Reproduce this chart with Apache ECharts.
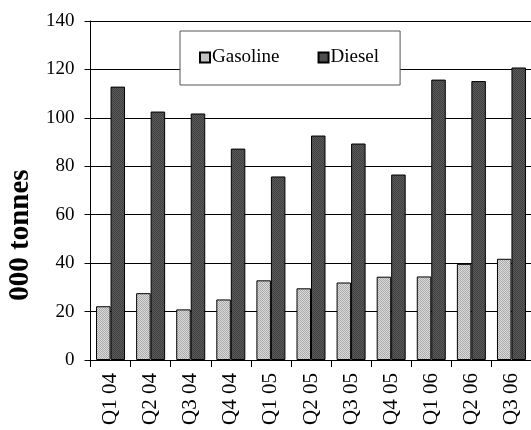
<!DOCTYPE html>
<html>
<head>
<meta charset="utf-8">
<script src="https://cdn.jsdelivr.net/npm/echarts@6/dist/echarts.min.js"></script>
<style>
html,body{margin:0;padding:0;background:#fff;}
#chart{width:531px;height:430px;}
</style>
</head>
<body>
<div id="chart"></div>
<script>
var categories = ['Q1 04','Q2 04','Q3 04','Q4 04','Q1 05','Q2 05','Q3 05','Q4 05','Q1 06','Q2 06','Q3 06'];
var gasoline = [22.2, 27.6, 20.9, 25.0, 32.9, 29.6, 32.0, 34.4, 34.5, 39.7, 41.8];
var diesel = [112.9, 102.6, 101.8, 87.3, 75.8, 92.7, 89.4, 76.6, 115.8, 115.2, 120.8];
var yTicks = [0, 20, 40, 60, 80, 100, 120, 140];

function makePattern(c1, c2) {
  var cv = document.createElement('canvas');
  cv.width = 2; cv.height = 2;
  var ctx = cv.getContext('2d');
  ctx.fillStyle = c1; ctx.fillRect(0, 0, 2, 2);
  ctx.fillStyle = c2; ctx.fillRect(0, 0, 1, 1); ctx.fillRect(1, 1, 1, 1);
  return cv;
}
var gasPattern = { image: makePattern('#dadada', '#ababab'), repeat: 'repeat' };
var dieselPattern = { image: makePattern('#5a5a5a', '#404040'), repeat: 'repeat' };

var font = 'Liberation Serif';
var chart = echarts.init(document.getElementById('chart'), null, { renderer: 'canvas' });
chart.setOption({
  animation: false,
  backgroundColor: '#fff',
  grid: { left: 90.5, top: 21, width: 441, height: 339, containLabel: false, outerBoundsMode: 'none' },
  legend: {
    left: 180, top: 31,
    padding: [17, 21, 18, 19],
    itemGap: 38,
    itemWidth: 10, itemHeight: 10,
    icon: 'rect',
    backgroundColor: '#fff',
    borderColor: '#555',
    borderWidth: 1,
    borderRadius: 0,
    textStyle: { fontFamily: font, fontSize: 19, color: '#000', padding: [0, 0, 0, -3] },
    data: ['Gasoline', 'Diesel']
  },
  xAxis: {
    type: 'category',
    data: categories,
    axisLine: { lineStyle: { color: '#000', width: 1 } },
    axisTick: { show: true, length: 7, inside: false, lineStyle: { color: '#000' } },
    axisLabel: { rotate: 90, margin: 13, fontFamily: font, fontSize: 21, color: '#000' }
  },
  yAxis: {
    type: 'value',
    min: 0, max: 140, interval: 20,
    name: '000 tonnes',
    nameLocation: 'middle',
    nameGap: 55,
    nameTextStyle: { fontFamily: font, fontSize: 29, fontWeight: 'bold', color: '#000', padding: [0, 89, 0, 0] },
    axisLine: { show: true, lineStyle: { color: '#000', width: 1 } },
    axisTick: { show: true, length: 6, inside: false, lineStyle: { color: '#000' } },
    axisLabel: {
      margin: 16, fontFamily: font, fontSize: 19, color: '#000',
      formatter: function (v) { return yTicks.indexOf(v) >= 0 ? String(v) : ''; }
    },
    splitLine: { show: true, lineStyle: { color: '#000', width: 1 } }
  },
  series: [
    {
      name: 'Gasoline', type: 'bar', data: gasoline,
      barWidth: 14.5, barGap: '0%',
      itemStyle: { color: gasPattern, borderColor: '#000', borderWidth: 1 }
    },
    {
      name: 'Diesel', type: 'bar', data: diesel,
      barWidth: 14.5, barGap: '0%',
      itemStyle: { color: dieselPattern, borderColor: '#000', borderWidth: 1 }
    }
  ]
});
</script>
</body>
</html>
